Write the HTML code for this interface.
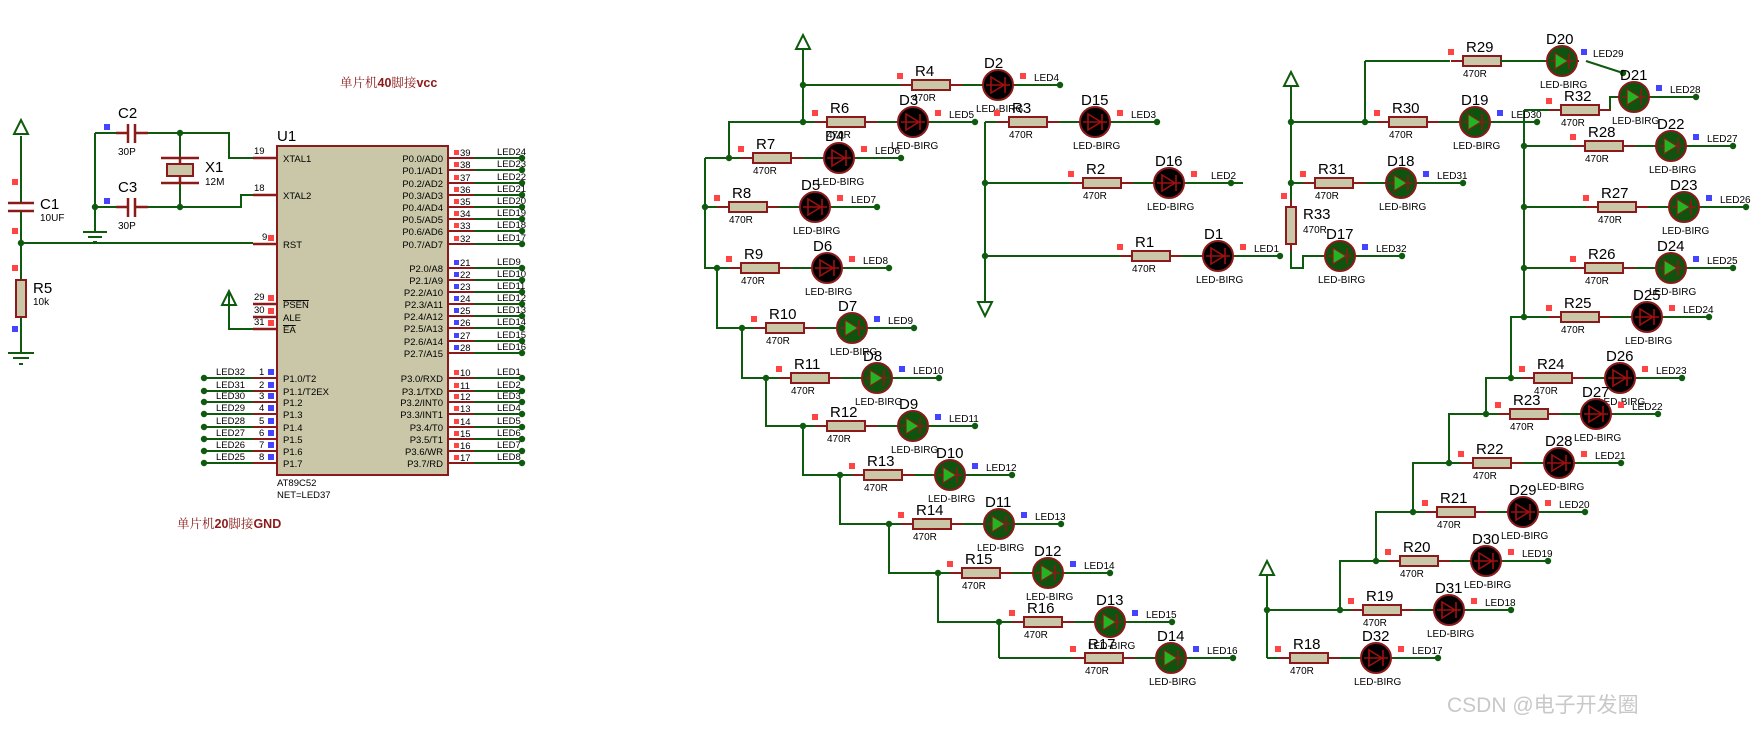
<!DOCTYPE html>
<html><head><meta charset="utf-8"><style>
html,body{margin:0;padding:0;background:#fff}
svg{display:block}
text{font-family:"Liberation Sans",Arial,sans-serif;fill:#000}
.s{font-size:10px}
.m{font-size:9.5px}
.b{font-size:15px}
.n{font-size:10px}
</style></head><body>
<svg width="1759" height="738" viewBox="0 0 1759 738" xmlns="http://www.w3.org/2000/svg">
<defs>
<g id="rb"><path d="M-12 0H0M38 0H50" stroke="#8b1a1a" stroke-width="2"/><rect x="0" y="-5" width="38" height="10" fill="#c9c7a8" stroke="#8b1a1a" stroke-width="2"/></g>
<g id="lk"><path d="M-17 0H17" stroke="#8b1a1a" stroke-width="2"/><circle r="15" fill="#000" stroke="#8b1a1a" stroke-width="2"/><path d="M-7 -8L6 0L-7 8Z" fill="none" stroke="#a01010" stroke-width="1.6"/><path d="M-12 0H12M7 -8V8" stroke="#a01010" stroke-width="1.6"/></g>
<g id="lg"><path d="M-17 0H17" stroke="#8b1a1a" stroke-width="2"/><circle r="15" fill="#0e540e" stroke="#8b1a1a" stroke-width="2"/><path d="M-7 -8L6 0L-7 8Z" fill="#22b522" stroke="#8b1a1a" stroke-width="1.2"/><path d="M-12 0H-7M6 0H12M7 -8V8" stroke="#8b1a1a" stroke-width="1.6"/></g>
<g id="rowK"><path d="M-15 0H148" stroke="#0e5a0e" stroke-width="2"/><use href="#rb"/><use href="#lk" x="86"/><circle cx="148" r="3.2" fill="#0e5a0e"/><rect x="-15" y="-12" width="6" height="6" fill="#f44"/><rect x="108" y="-12" width="6" height="6" fill="#f44"/></g>
<g id="rowG"><path d="M-15 0H148" stroke="#0e5a0e" stroke-width="2"/><use href="#rb"/><use href="#lg" x="86"/><circle cx="148" r="3.2" fill="#0e5a0e"/><rect x="-15" y="-12" width="6" height="6" fill="#f44"/><rect x="108" y="-12" width="6" height="6" fill="#44f"/></g>
<g id="pr"><path d="M0 0H74" stroke="#0e5a0e" stroke-width="2"/><path d="M0 0H26" stroke="#8b1a1a" stroke-width="2"/><circle cx="74" r="3.2" fill="#0e5a0e"/></g>
<g id="pl"><path d="M0 0H73" stroke="#0e5a0e" stroke-width="2"/><path d="M49 0H73" stroke="#8b1a1a" stroke-width="2"/><circle cx="0" r="3.2" fill="#0e5a0e"/><rect x="64" y="-9" width="6" height="6" fill="#44f"/></g>
<g id="vcc"><path d="M0 14L-7 14L0 0L7 14Z" fill="none" stroke="#0e5a0e" stroke-width="2"/></g>
</defs>

<!-- ===== MCU section ===== -->
<g stroke="#0e5a0e" stroke-width="2" fill="none">
<path d="M21 136V203M21 211V243M21 243H253M21 243V280M21 317V353"/>
<path d="M8 353H34M13 358H29M19 364H23"/>
<path d="M95 133V232M83 232H107M88 237H102M93 242H97"/>
<path d="M95 133H116M148 133H229V158H253M180 133V158M180 183V207M95 207H116M148 207H241V195H253"/>
<path d="M229 293V329H253"/>
</g>
<use href="#vcc" x="21" y="120"/>
<use href="#vcc" x="229" y="291"/>
<circle cx="21" cy="243" r="3.2" fill="#0e5a0e"/><circle cx="95" cy="207" r="3.2" fill="#0e5a0e"/><circle cx="180" cy="133" r="3.2" fill="#0e5a0e"/><circle cx="180" cy="207" r="3.2" fill="#0e5a0e"/>
<g stroke="#8b1a1a" stroke-width="2.5" fill="none">
<path d="M8 203H34M8 211H34"/>
<path d="M116 133H128M128 124V143M135 124V143M135 133H148"/>
<path d="M116 207H128M128 198V217M135 198V217M135 207H148"/>
<path d="M161 158H199M161 183H199M180 158V164M180 176V183"/>
<path d="M253 158H277M253 195H277M253 244H277M253 304H277M253 317H277M253 329H277"/>
</g>
<rect x="167" y="164" width="26" height="12" fill="#c9c7a8" stroke="#8b1a1a" stroke-width="2"/>
<rect x="16" y="280" width="10" height="37" fill="#c9c7a8" stroke="#8b1a1a" stroke-width="2"/>
<rect x="12" y="179" width="6" height="6" fill="#f44"/><rect x="12" y="228" width="6" height="6" fill="#f44"/><rect x="12" y="265" width="6" height="6" fill="#f44"/><rect x="12" y="326" width="6" height="6" fill="#44f"/>
<rect x="104" y="124" width="6" height="6" fill="#44f"/><rect x="104" y="198" width="6" height="6" fill="#44f"/>
<text x="40" y="209" class="b">C1</text><text x="40" y="221" class="s">10UF</text>
<text x="118" y="118" class="b">C2</text><text x="118" y="155" class="s">30P</text>
<text x="118" y="192" class="b">C3</text><text x="118" y="229" class="s">30P</text>
<text x="205" y="172" class="b">X1</text><text x="205" y="185" class="s">12M</text>
<text x="33" y="293" class="b">R5</text><text x="33" y="305" class="s">10k</text>

<rect x="277" y="146" width="171" height="329" fill="#c9c7a8" stroke="#8b1a1a" stroke-width="2"/>
<text x="277" y="141" class="b">U1</text>
<text x="277" y="486" class="m">AT89C52</text><text x="277" y="498" class="m">NET=LED37</text>
<text x="340" y="87" style="font-family:'Noto Serif CJK SC','Liberation Serif',serif;font-size:12.5px;fill:#8b1a1a">单片机<tspan style="font-family:'Liberation Sans',sans-serif;font-weight:bold;fill:#8b1a1a">40</tspan>脚接<tspan style="font-family:'Liberation Sans',sans-serif;font-weight:bold;fill:#8b1a1a">vcc</tspan></text>
<text x="177" y="528" style="font-family:'Noto Serif CJK SC','Liberation Serif',serif;font-size:12.5px;fill:#8b1a1a">单片机<tspan style="font-family:'Liberation Sans',sans-serif;font-weight:bold;fill:#8b1a1a">20</tspan>脚接<tspan style="font-family:'Liberation Sans',sans-serif;font-weight:bold;fill:#8b1a1a">GND</tspan></text>

<!-- left pin labels -->
<g class="m">
<text x="283" y="162" class="m">XTAL1</text><text x="283" y="199" class="m">XTAL2</text><text x="283" y="248" class="m">RST</text>
<text x="283" y="308" class="m" text-decoration="overline">PSEN</text><text x="283" y="321" class="m">ALE</text><text x="283" y="333" class="m" text-decoration="overline">EA</text>
<text x="283" y="382" class="m">P1.0/T2</text><text x="283" y="395" class="m">P1.1/T2EX</text><text x="283" y="406" class="m">P1.2</text><text x="283" y="418" class="m">P1.3</text><text x="283" y="431" class="m">P1.4</text><text x="283" y="443" class="m">P1.5</text><text x="283" y="455" class="m">P1.6</text><text x="283" y="467" class="m">P1.7</text>
<text x="254" y="154" class="m">19</text><text x="254" y="191" class="m">18</text><text x="262" y="240" class="m">9</text>
<text x="254" y="300" class="m">29</text><text x="254" y="313" class="m">30</text><text x="254" y="325" class="m">31</text>
</g>
<rect x="268" y="235" width="6" height="6" fill="#f44"/><rect x="268" y="295" width="6" height="6" fill="#f44"/><rect x="268" y="308" width="6" height="6" fill="#f44"/><rect x="268" y="320" width="6" height="6" fill="#f44"/>
<!-- P1 left -->
<use href="#pl" x="204" y="378"/><use href="#pl" x="204" y="391"/><use href="#pl" x="204" y="402"/><use href="#pl" x="204" y="414"/><use href="#pl" x="204" y="427"/><use href="#pl" x="204" y="439"/><use href="#pl" x="204" y="451"/><use href="#pl" x="204" y="463"/>
<g class="m">
<text x="216" y="375" class="m">LED32</text><text x="216" y="388" class="m">LED31</text><text x="216" y="399" class="m">LED30</text><text x="216" y="411" class="m">LED29</text><text x="216" y="424" class="m">LED28</text><text x="216" y="436" class="m">LED27</text><text x="216" y="448" class="m">LED26</text><text x="216" y="460" class="m">LED25</text>
<text x="259" y="375" class="m">1</text><text x="259" y="388" class="m">2</text><text x="259" y="399" class="m">3</text><text x="259" y="411" class="m">4</text><text x="259" y="424" class="m">5</text><text x="259" y="436" class="m">6</text><text x="259" y="448" class="m">7</text><text x="259" y="460" class="m">8</text>
</g>
<!-- right pins -->
<g>
<use href="#pr" x="448" y="158"/><use href="#pr" x="448" y="170"/><use href="#pr" x="448" y="183"/><use href="#pr" x="448" y="195"/><use href="#pr" x="448" y="207"/><use href="#pr" x="448" y="219"/><use href="#pr" x="448" y="231"/><use href="#pr" x="448" y="244"/>
<use href="#pr" x="448" y="268"/><use href="#pr" x="448" y="280"/><use href="#pr" x="448" y="292"/><use href="#pr" x="448" y="304"/><use href="#pr" x="448" y="316"/><use href="#pr" x="448" y="328"/><use href="#pr" x="448" y="341"/><use href="#pr" x="448" y="353"/>
<use href="#pr" x="448" y="378"/><use href="#pr" x="448" y="391"/><use href="#pr" x="448" y="402"/><use href="#pr" x="448" y="414"/><use href="#pr" x="448" y="427"/><use href="#pr" x="448" y="439"/><use href="#pr" x="448" y="451"/><use href="#pr" x="448" y="463"/>
</g>
<g fill="#f44">
<rect x="454" y="150" width="5" height="5"/><rect x="454" y="162" width="5" height="5"/><rect x="454" y="175" width="5" height="5"/><rect x="454" y="187" width="5" height="5"/><rect x="454" y="199" width="5" height="5"/><rect x="454" y="211" width="5" height="5"/><rect x="454" y="223" width="5" height="5"/><rect x="454" y="236" width="5" height="5"/>
<rect x="454" y="370" width="5" height="5"/><rect x="454" y="383" width="5" height="5"/><rect x="454" y="394" width="5" height="5"/><rect x="454" y="406" width="5" height="5"/><rect x="454" y="419" width="5" height="5"/><rect x="454" y="431" width="5" height="5"/><rect x="454" y="443" width="5" height="5"/><rect x="454" y="455" width="5" height="5"/>
</g>
<g fill="#44f">
<rect x="454" y="260" width="5" height="5"/><rect x="454" y="272" width="5" height="5"/><rect x="454" y="284" width="5" height="5"/><rect x="454" y="296" width="5" height="5"/><rect x="454" y="308" width="5" height="5"/><rect x="454" y="320" width="5" height="5"/><rect x="454" y="333" width="5" height="5"/><rect x="454" y="345" width="5" height="5"/>
</g>
<g text-anchor="end">
<text x="443" y="162" class="m">P0.0/AD0</text><text x="443" y="174" class="m">P0.1/AD1</text><text x="443" y="187" class="m">P0.2/AD2</text><text x="443" y="199" class="m">P0.3/AD3</text><text x="443" y="211" class="m">P0.4/AD4</text><text x="443" y="223" class="m">P0.5/AD5</text><text x="443" y="235" class="m">P0.6/AD6</text><text x="443" y="248" class="m">P0.7/AD7</text>
<text x="443" y="272" class="m">P2.0/A8</text><text x="443" y="284" class="m">P2.1/A9</text><text x="443" y="296" class="m">P2.2/A10</text><text x="443" y="308" class="m">P2.3/A11</text><text x="443" y="320" class="m">P2.4/A12</text><text x="443" y="332" class="m">P2.5/A13</text><text x="443" y="345" class="m">P2.6/A14</text><text x="443" y="357" class="m">P2.7/A15</text>
<text x="443" y="382" class="m">P3.0/RXD</text><text x="443" y="395" class="m">P3.1/TXD</text><text x="443" y="406" class="m">P3.2/INT0</text><text x="443" y="418" class="m">P3.3/INT1</text><text x="443" y="431" class="m">P3.4/T0</text><text x="443" y="443" class="m">P3.5/T1</text><text x="443" y="455" class="m">P3.6/WR</text><text x="443" y="467" class="m">P3.7/RD</text>
</g>
<g>
<text x="460" y="156" class="m">39</text><text x="460" y="168" class="m">38</text><text x="460" y="181" class="m">37</text><text x="460" y="193" class="m">36</text><text x="460" y="205" class="m">35</text><text x="460" y="217" class="m">34</text><text x="460" y="229" class="m">33</text><text x="460" y="242" class="m">32</text>
<text x="460" y="266" class="m">21</text><text x="460" y="278" class="m">22</text><text x="460" y="290" class="m">23</text><text x="460" y="302" class="m">24</text><text x="460" y="314" class="m">25</text><text x="460" y="326" class="m">26</text><text x="460" y="339" class="m">27</text><text x="460" y="351" class="m">28</text>
<text x="460" y="376" class="m">10</text><text x="460" y="389" class="m">11</text><text x="460" y="400" class="m">12</text><text x="460" y="412" class="m">13</text><text x="460" y="425" class="m">14</text><text x="460" y="437" class="m">15</text><text x="460" y="449" class="m">16</text><text x="460" y="461" class="m">17</text>
<text x="497" y="155" class="m">LED24</text><text x="497" y="167" class="m">LED23</text><text x="497" y="180" class="m">LED22</text><text x="497" y="192" class="m">LED21</text><text x="497" y="204" class="m">LED20</text><text x="497" y="216" class="m">LED19</text><text x="497" y="228" class="m">LED18</text><text x="497" y="241" class="m">LED17</text>
<text x="497" y="265" class="m">LED9</text><text x="497" y="277" class="m">LED10</text><text x="497" y="289" class="m">LED11</text><text x="497" y="301" class="m">LED12</text><text x="497" y="313" class="m">LED13</text><text x="497" y="325" class="m">LED14</text><text x="497" y="338" class="m">LED15</text><text x="497" y="350" class="m">LED16</text>
<text x="497" y="375" class="m">LED1</text><text x="497" y="388" class="m">LED2</text><text x="497" y="399" class="m">LED3</text><text x="497" y="411" class="m">LED4</text><text x="497" y="424" class="m">LED5</text><text x="497" y="436" class="m">LED6</text><text x="497" y="448" class="m">LED7</text><text x="497" y="460" class="m">LED8</text>
</g>

<!-- ===== LED arrays: wires ===== -->
<g stroke="#0e5a0e" stroke-width="2" fill="none">
<path d="M803 50V122H729V158M705 158V268H717V328H742V378H766V426H803V475H840V524H889V573H938V622H999V658"/>
<path d="M705 158H740M705 207H716M717 268H728M742 328H753M766 378H778M803 426H814M840 475H851M889 524H900M938 573H949M999 622H1011M999 658H1072M803 85H899M803 122H814"/>
<path d="M985 122V302M985 122H996M985 183H1070M985 256H1119M1232 183H1243"/>
<path d="M1291 86V207M1291 244V268H1303V256H1325M1365 61V122M1291 122H1376M1365 61H1450M1291 183H1302"/>
<path d="M1524 110V317H1511V378H1486V414H1449V463H1413V512H1376V561H1340V610H1267V658"/>
<path d="M1524 110H1549M1610 110V97H1617M1650 97H1696M1524 146H1572M1524 207H1585M1524 268H1572M1511 317H1548M1511 378H1521M1486 414H1497M1449 463H1460M1413 512H1424M1376 561H1387M1340 610H1350M1267 658H1277M1267 575V610"/>
<path d="M1586 61L1623 73M1356 256H1402"/>
</g>
<use href="#vcc" x="803" y="35"/>
<use href="#vcc" x="1291" y="72"/>
<use href="#vcc" x="1267" y="561"/>
<path d="M978 302H992L985 316Z" fill="none" stroke="#0e5a0e" stroke-width="2"/>
<path d="M1598 110H1610" stroke="#8b1a1a" stroke-width="2"/>
<path d="M1291 200V251" stroke="#8b1a1a" stroke-width="2"/>
<rect x="1286" y="207" width="10" height="37" fill="#c9c7a8" stroke="#8b1a1a" stroke-width="2"/>
<rect x="1281" y="193" width="6" height="6" fill="#f44"/>
<g fill="#0e5a0e">
<circle cx="803" cy="85" r="3.2"/><circle cx="803" cy="122" r="3.2"/><circle cx="729" cy="158" r="3.2"/><circle cx="705" cy="207" r="3.2"/><circle cx="717" cy="268" r="3.2"/><circle cx="742" cy="328" r="3.2"/><circle cx="766" cy="378" r="3.2"/><circle cx="803" cy="426" r="3.2"/><circle cx="840" cy="475" r="3.2"/><circle cx="889" cy="524" r="3.2"/><circle cx="938" cy="573" r="3.2"/><circle cx="999" cy="622" r="3.2"/>
<circle cx="985" cy="183" r="3.2"/><circle cx="985" cy="256" r="3.2"/>
<circle cx="1291" cy="122" r="3.2"/><circle cx="1365" cy="122" r="3.2"/><circle cx="1291" cy="183" r="3.2"/><circle cx="1623" cy="73" r="3.2"/><circle cx="1402" cy="256" r="3.2"/><circle cx="1696" cy="97" r="3.2"/>
<circle cx="1524" cy="146" r="3.2"/><circle cx="1524" cy="207" r="3.2"/><circle cx="1524" cy="268" r="3.2"/><circle cx="1524" cy="317" r="3.2"/><circle cx="1511" cy="378" r="3.2"/><circle cx="1486" cy="414" r="3.2"/><circle cx="1449" cy="463" r="3.2"/><circle cx="1413" cy="512" r="3.2"/><circle cx="1376" cy="561" r="3.2"/><circle cx="1340" cy="610" r="3.2"/><circle cx="1267" cy="610" r="3.2"/>
</g>

<!-- rows: template origin at resistor left -->
<g transform="translate(912,85)"><use href="#rowK"/><text x="3" y="-9" class="b">R4</text><text x="0" y="16" class="s">470R</text><text x="72" y="-17" class="b">D2</text><text x="64" y="27" class="s">LED-BIRG</text><text x="122" y="-4" class="n">LED4</text></g>
<g transform="translate(827,122)"><use href="#rowK"/><text x="3" y="-9" class="b">R6</text><text x="0" y="16" class="s">470R</text><text x="72" y="-17" class="b">D3</text><text x="64" y="27" class="s">LED-BIRG</text><text x="122" y="-4" class="n">LED5</text></g>
<g transform="translate(753,158)"><use href="#rowK"/><text x="3" y="-9" class="b">R7</text><text x="0" y="16" class="s">470R</text><text x="72" y="-17" class="b">D4</text><text x="64" y="27" class="s">LED-BIRG</text><text x="122" y="-4" class="n">LED6</text></g>
<g transform="translate(729,207)"><use href="#rowK"/><text x="3" y="-9" class="b">R8</text><text x="0" y="16" class="s">470R</text><text x="72" y="-17" class="b">D5</text><text x="64" y="27" class="s">LED-BIRG</text><text x="122" y="-4" class="n">LED7</text></g>
<g transform="translate(741,268)"><use href="#rowK"/><text x="3" y="-9" class="b">R9</text><text x="0" y="16" class="s">470R</text><text x="72" y="-17" class="b">D6</text><text x="64" y="27" class="s">LED-BIRG</text><text x="122" y="-4" class="n">LED8</text></g>
<g transform="translate(766,328)"><use href="#rowG"/><text x="3" y="-9" class="b">R10</text><text x="0" y="16" class="s">470R</text><text x="72" y="-17" class="b">D7</text><text x="64" y="27" class="s">LED-BIRG</text><text x="122" y="-4" class="n">LED9</text></g>
<g transform="translate(791,378)"><use href="#rowG"/><text x="3" y="-9" class="b">R11</text><text x="0" y="16" class="s">470R</text><text x="72" y="-17" class="b">D8</text><text x="64" y="27" class="s">LED-BIRG</text><text x="122" y="-4" class="n">LED10</text></g>
<g transform="translate(827,426)"><use href="#rowG"/><text x="3" y="-9" class="b">R12</text><text x="0" y="16" class="s">470R</text><text x="72" y="-17" class="b">D9</text><text x="64" y="27" class="s">LED-BIRG</text><text x="122" y="-4" class="n">LED11</text></g>
<g transform="translate(864,475)"><use href="#rowG"/><text x="3" y="-9" class="b">R13</text><text x="0" y="16" class="s">470R</text><text x="72" y="-17" class="b">D10</text><text x="64" y="27" class="s">LED-BIRG</text><text x="122" y="-4" class="n">LED12</text></g>
<g transform="translate(913,524)"><use href="#rowG"/><text x="3" y="-9" class="b">R14</text><text x="0" y="16" class="s">470R</text><text x="72" y="-17" class="b">D11</text><text x="64" y="27" class="s">LED-BIRG</text><text x="122" y="-4" class="n">LED13</text></g>
<g transform="translate(962,573)"><use href="#rowG"/><text x="3" y="-9" class="b">R15</text><text x="0" y="16" class="s">470R</text><text x="72" y="-17" class="b">D12</text><text x="64" y="27" class="s">LED-BIRG</text><text x="122" y="-4" class="n">LED14</text></g>
<g transform="translate(1024,622)"><use href="#rowG"/><text x="3" y="-9" class="b">R16</text><text x="0" y="16" class="s">470R</text><text x="72" y="-17" class="b">D13</text><text x="64" y="27" class="s">LED-BIRG</text><text x="122" y="-4" class="n">LED15</text></g>
<g transform="translate(1085,658)"><use href="#rowG"/><text x="3" y="-9" class="b">R17</text><text x="0" y="16" class="s">470R</text><text x="72" y="-17" class="b">D14</text><text x="64" y="27" class="s">LED-BIRG</text><text x="122" y="-4" class="n">LED16</text></g>

<g transform="translate(1009,122)"><use href="#rowK"/><text x="3" y="-9" class="b">R3</text><text x="0" y="16" class="s">470R</text><text x="72" y="-17" class="b">D15</text><text x="64" y="27" class="s">LED-BIRG</text><text x="122" y="-4" class="n">LED3</text></g>
<g transform="translate(1083,183)"><use href="#rowK"/><text x="3" y="-9" class="b">R2</text><text x="0" y="16" class="s">470R</text><text x="72" y="-17" class="b">D16</text><text x="64" y="27" class="s">LED-BIRG</text><text x="128" y="-4" class="n">LED2</text></g>
<g transform="translate(1132,256)"><use href="#rowK"/><text x="3" y="-9" class="b">R1</text><text x="0" y="16" class="s">470R</text><text x="72" y="-17" class="b">D1</text><text x="64" y="27" class="s">LED-BIRG</text><text x="122" y="-4" class="n">LED1</text></g>

<g transform="translate(1389,122)"><use href="#rowG"/><text x="3" y="-9" class="b">R30</text><text x="0" y="16" class="s">470R</text><text x="72" y="-17" class="b">D19</text><text x="64" y="27" class="s">LED-BIRG</text><text x="122" y="-4" class="n">LED30</text></g>
<g transform="translate(1463,61)"><use href="#rb"/><use href="#lg" x="99"/><rect x="-15" y="-12" width="6" height="6" fill="#f44"/><rect x="118" y="-12" width="6" height="6" fill="#44f"/><text x="3" y="-9" class="b">R29</text><text x="0" y="16" class="s">470R</text><text x="83" y="-17" class="b">D20</text><text x="77" y="27" class="s">LED-BIRG</text><text x="130" y="-4" class="n">LED29</text></g>
<path d="M1500 61H1545" stroke="#0e5a0e" stroke-width="2"/>
<g transform="translate(1315,183)"><use href="#rowG"/><text x="3" y="-9" class="b">R31</text><text x="0" y="16" class="s">470R</text><text x="72" y="-17" class="b">D18</text><text x="64" y="27" class="s">LED-BIRG</text><text x="122" y="-4" class="n">LED31</text></g>
<g transform="translate(1340,256)"><use href="#lg"/><rect x="22" y="-12" width="6" height="6" fill="#44f"/><text x="-14" y="-17" class="b">D17</text><text x="-22" y="27" class="s">LED-BIRG</text><text x="36" y="-4" class="n">LED32</text></g>
<text x="1303" y="219" class="b">R33</text><text x="1303" y="233" class="s">470R</text>
<g transform="translate(1561,110)"><use href="#rb"/><rect x="-15" y="-12" width="6" height="6" fill="#f44"/><text x="3" y="-9" class="b">R32</text><text x="0" y="16" class="s">470R</text></g>
<g transform="translate(1634,97)"><use href="#lg"/><rect x="22" y="-12" width="6" height="6" fill="#44f"/><text x="-14" y="-17" class="b">D21</text><text x="-22" y="27" class="s">LED-BIRG</text><text x="36" y="-4" class="n">LED28</text></g>
<g transform="translate(1585,146)"><use href="#rowG"/><text x="3" y="-9" class="b">R28</text><text x="0" y="16" class="s">470R</text><text x="72" y="-17" class="b">D22</text><text x="64" y="27" class="s">LED-BIRG</text><text x="122" y="-4" class="n">LED27</text></g>
<g transform="translate(1598,207)"><use href="#rowG"/><text x="3" y="-9" class="b">R27</text><text x="0" y="16" class="s">470R</text><text x="72" y="-17" class="b">D23</text><text x="64" y="27" class="s">LED-BIRG</text><text x="122" y="-4" class="n">LED26</text></g>
<g transform="translate(1585,268)"><use href="#rowG"/><text x="3" y="-9" class="b">R26</text><text x="0" y="16" class="s">470R</text><text x="72" y="-17" class="b">D24</text><text x="64" y="27" class="s">LED-BIRG</text><text x="122" y="-4" class="n">LED25</text></g>
<g transform="translate(1561,317)"><use href="#rowK"/><text x="3" y="-9" class="b">R25</text><text x="0" y="16" class="s">470R</text><text x="72" y="-17" class="b">D25</text><text x="64" y="27" class="s">LED-BIRG</text><text x="122" y="-4" class="n">LED24</text></g>
<g transform="translate(1534,378)"><use href="#rowK"/><text x="3" y="-9" class="b">R24</text><text x="0" y="16" class="s">470R</text><text x="72" y="-17" class="b">D26</text><text x="64" y="27" class="s">LED-BIRG</text><text x="122" y="-4" class="n">LED23</text></g>
<g transform="translate(1510,414)"><use href="#rowK"/><text x="3" y="-9" class="b">R23</text><text x="0" y="16" class="s">470R</text><text x="72" y="-17" class="b">D27</text><text x="64" y="27" class="s">LED-BIRG</text><text x="122" y="-4" class="n">LED22</text></g>
<g transform="translate(1473,463)"><use href="#rowK"/><text x="3" y="-9" class="b">R22</text><text x="0" y="16" class="s">470R</text><text x="72" y="-17" class="b">D28</text><text x="64" y="27" class="s">LED-BIRG</text><text x="122" y="-4" class="n">LED21</text></g>
<g transform="translate(1437,512)"><use href="#rowK"/><text x="3" y="-9" class="b">R21</text><text x="0" y="16" class="s">470R</text><text x="72" y="-17" class="b">D29</text><text x="64" y="27" class="s">LED-BIRG</text><text x="122" y="-4" class="n">LED20</text></g>
<g transform="translate(1400,561)"><use href="#rowK"/><text x="3" y="-9" class="b">R20</text><text x="0" y="16" class="s">470R</text><text x="72" y="-17" class="b">D30</text><text x="64" y="27" class="s">LED-BIRG</text><text x="122" y="-4" class="n">LED19</text></g>
<g transform="translate(1363,610)"><use href="#rowK"/><text x="3" y="-9" class="b">R19</text><text x="0" y="16" class="s">470R</text><text x="72" y="-17" class="b">D31</text><text x="64" y="27" class="s">LED-BIRG</text><text x="122" y="-4" class="n">LED18</text></g>
<g transform="translate(1290,658)"><use href="#rowK"/><text x="3" y="-9" class="b">R18</text><text x="0" y="16" class="s">470R</text><text x="72" y="-17" class="b">D32</text><text x="64" y="27" class="s">LED-BIRG</text><text x="122" y="-4" class="n">LED17</text></g>

<text x="1447" y="712" style="font-family:'Liberation Sans','Noto Sans CJK SC',sans-serif;font-size:21px;fill:#c8c8c8">CSDN @电子开发圈</text>
</svg>
</body></html>
